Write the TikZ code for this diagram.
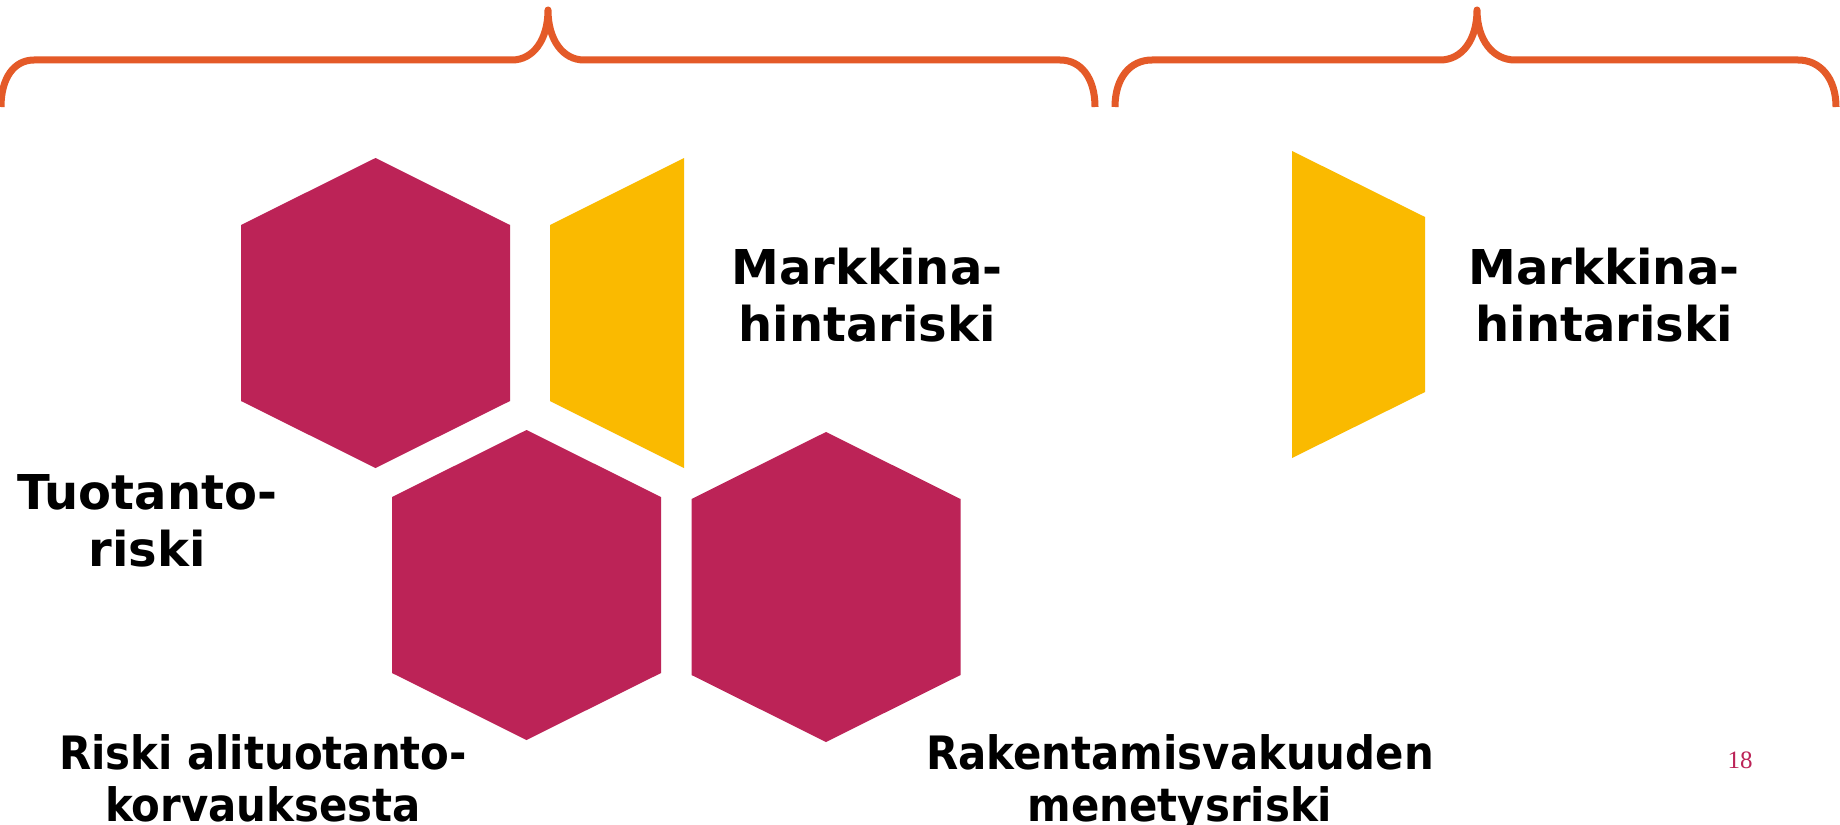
\documentclass[tikz,border=0pt]{standalone}
\usepackage{fontspec}
\setmainfont{Liberation Serif}
\newfontfamily\labelfont{DejaVu Sans}
\newfontfamily\narrowlabelfont{DejaVu Sans}[FakeStretch=0.91]
\usepackage{tikz}
\definecolor{hexred}{RGB}{188,35,87}
\definecolor{hexgold}{RGB}{250,186,0}
\definecolor{braceorange}{RGB}{228,90,40}
\tikzset{
    hexmag/.style={fill=hexred, draw=none},
    hexyel/.style={fill=hexgold, draw=none},
    bracket/.style={draw=braceorange, line width=3.5pt, line join=round, line cap=butt},
    risklabel/.style={font=\labelfont\bfseries\fontsize{24}{28.5}\selectfont,
        align=center, inner sep=0pt, anchor=north},
    smalllabel/.style={risklabel, font=\narrowlabelfont\bfseries\fontsize{23}{26}\selectfont},
    pagenum/.style={font=\fontsize{12.5}{15}\selectfont, text=hexred, inner sep=0pt, anchor=base},
}

\begin{document}
\begin{tikzpicture}[x=0.5pt, y=-0.5pt]
		\useasboundingbox[fill=white] (0,0) rectangle (1840,824);
		\draw[bracket] (1,107) .. controls (1,78) and (14,60) .. (34,60) -- (512,60)
			.. controls (533,60) and (548,40) .. (548,10)
			.. controls (548,40) and (563,60) .. (584,60) -- (1060,60)
			.. controls (1081,60) and (1095,78) .. (1095,107);
		\draw[bracket] (1115,107) .. controls (1115,78) and (1130,60) .. (1152,60) -- (1440,60)
			.. controls (1462,60) and (1477,40) .. (1477,10)
			.. controls (1477,40) and (1493,60) .. (1515,60) -- (1798,60)
			.. controls (1820,60) and (1836,78) .. (1836,107);
		\foreach \cx/\cy in {375.5/313, 526.5/585, 826/587}{
			\begin{scope}[shift={(\cx,\cy)}]
				\fill[hexmag] (0,-155) -- (134.5,-88) -- (134.5,88) -- (0,155)
					-- (-134.5,88) -- (-134.5,-88) -- cycle;
			\end{scope}
		}
		\begin{scope}[shift={(684,313)}]
			\fill[hexyel] (0,-155) -- (-134,-88) -- (-134,88) -- (0,155) -- cycle;
		\end{scope}
		\begin{scope}[shift={(1292,304.5)}]
			\fill[hexyel] (0,-153.5) -- (133,-87.5) -- (133,87.5) -- (0,153.5) -- cycle;
		\end{scope}
		\node[risklabel] (market1) at (867,248) {Markkina-\\hintariski};
		\node[risklabel] (market2) at (1604,248) {Markkina-\\hintariski};
		\node[risklabel] (production) at (147,474) {Tuotanto-\\riski};
		\node[smalllabel] (shortfall) at (263,734) {Riski alituotanto-\\korvauksesta};
		\node[smalllabel] (guarantee) at (1180,734) {Rakentamisvakuuden\\menetysriski};
		\node[pagenum] (page) at (1740,768) {18};
\end{tikzpicture}
\end{document}
